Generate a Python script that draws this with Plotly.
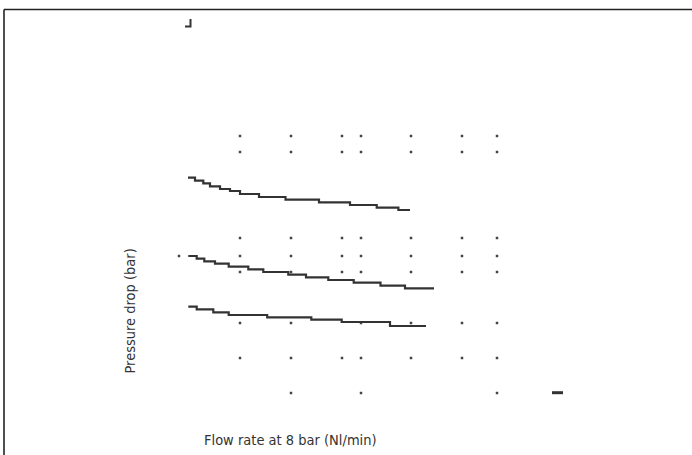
import plotly.graph_objects as go

# Flow rate (Nl/min) and pressure drop (bar) values
grid_flow = [120, 222, 324, 362, 462, 564, 634]
grid_rows_full = [3.19, 3.03, 2.17, 1.99, 1.83, 0.97]
row_mid_flow = [120, 222, 362, 462, 564, 634]
row_mid_p = 1.32
row_low_flow = [222, 362, 634]
row_low_p = 0.62
stray_flow = [-2]
stray_p = [1.99]

curve_a_flow = [16, 30, 46.6, 60, 80, 100, 120, 158, 211, 278, 340, 393.4, 436.8, 460]
curve_a_p = [2.773, 2.743, 2.717, 2.687, 2.66, 2.64, 2.61, 2.58, 2.553, 2.527, 2.50, 2.473, 2.45, 2.45]

curve_b_flow = [16.6, 33.4, 48.6, 70, 97.4, 136.6, 166.6, 216.6, 252, 296.6, 347.4, 401, 450, 508]
curve_b_p = [1.99, 1.963, 1.937, 1.913, 1.883, 1.857, 1.83, 1.803, 1.777, 1.75, 1.723, 1.693, 1.667, 1.667]

curve_c_flow = [16.6, 33.4, 66.6, 97.4, 174.4, 262.6, 323.4, 420, 492]
curve_c_p = [1.483, 1.457, 1.427, 1.40, 1.377, 1.353, 1.33, 1.29, 1.29]

mark_flow = [10, 21, 21]
mark_p = [4.285, 4.285, 4.36]
dash_flow = [744, 766]
dash_p = [0.623, 0.623]

x_title = "Flow rate at 8 bar (Nl/min)"
y_title = "Pressure drop (bar)"

FONT = "Liberation Sans Narrow, Arial Narrow, DejaVu Sans Condensed, sans-serif"
INK = "#333333"

fig = go.Figure()

# grid dots
dx, dy = [], []
for p in grid_rows_full:
    for f in grid_flow:
        dx.append(f); dy.append(p)
for f in row_mid_flow:
    dx.append(f); dy.append(row_mid_p)
for f in row_low_flow:
    dx.append(f); dy.append(row_low_p)
dx += stray_flow
dy += stray_p
fig.add_trace(go.Scatter(x=dx, y=dy, mode="markers",
                         marker=dict(symbol="square", size=2.5, color="#444444", line=dict(width=0)),
                         hoverinfo="skip"))

for fx, py in [(curve_a_flow, curve_a_p), (curve_b_flow, curve_b_p), (curve_c_flow, curve_c_p)]:
    fig.add_trace(go.Scatter(x=fx, y=py, mode="lines",
                             line=dict(color=INK, width=2.2, shape="hv"), hoverinfo="skip"))

fig.add_trace(go.Scatter(x=mark_flow, y=mark_p, mode="lines",
                         line=dict(color=INK, width=2), hoverinfo="skip"))
fig.add_trace(go.Scatter(x=dash_flow, y=dash_p, mode="lines",
                         line=dict(color=INK, width=3), hoverinfo="skip"))

fig.update_layout(
    width=692, height=455,
    margin=dict(l=0, r=0, t=0, b=0),
    paper_bgcolor="white", plot_bgcolor="white",
    showlegend=False,
    xaxis=dict(range=[-360, 1024], visible=False, fixedrange=True),
    yaxis=dict(range=[0, 4.55], visible=False, fixedrange=True),
    shapes=[
        dict(type="line", xref="paper", yref="paper", x0=4 / 692, x1=1, y0=1 - 9.5 / 455, y1=1 - 9.5 / 455,
             line=dict(color="#222222", width=1.6)),
        dict(type="line", xref="paper", yref="paper", x0=4 / 692, x1=4 / 692, y0=0, y1=1 - 9.5 / 455,
             line=dict(color="#222222", width=1.6)),
    ],
    annotations=[
        dict(text=x_title, xref="paper", yref="paper", x=290.5 / 692, y=1 - 440 / 455,
             xanchor="center", yanchor="middle", showarrow=False,
             font=dict(family=FONT, size=14.5, color=INK)),
        dict(text=y_title, xref="paper", yref="paper", x=129 / 692, y=1 - 311.5 / 455,
             xanchor="center", yanchor="middle", showarrow=False, textangle=-90,
             font=dict(family=FONT, size=14.5, color=INK)),
    ],
)

fig.write_html("out.html", config={"displayModeBar": False},
               post_script="document.body.style.margin='0';document.body.style.overflow='hidden';")
